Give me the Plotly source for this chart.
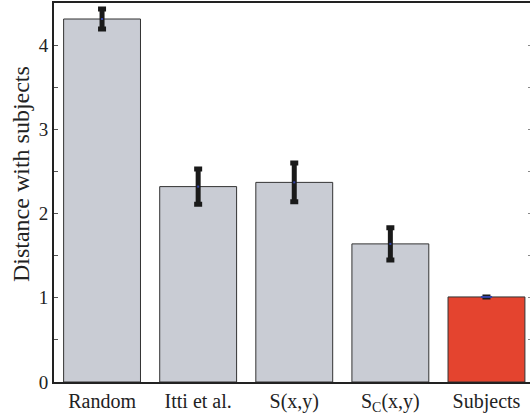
import plotly.graph_objects as go

categories = ["Random", "Itti et al.", "S(x,y)", "S<sub>C</sub>(x,y)", "Subjects"]
values = [4.31, 2.32, 2.37, 1.64, 1.01]
errors = [0.12, 0.21, 0.23, 0.19, 0.0]
bar_colors = ["#C9CCD4", "#C9CCD4", "#C9CCD4", "#C9CCD4", "#E4442F"]
y_ticks = [0, 1, 2, 3, 4]

x_idx = list(range(len(categories)))

fig = go.Figure()
fig.add_trace(go.Bar(
    x=x_idx, y=values,
    marker=dict(color=bar_colors, line=dict(color="#333333", width=1)),
    error_y=dict(type="data", array=errors, visible=True, color="#1a1a1a",
                 thickness=5, width=4),
    width=0.8, showlegend=False, hoverinfo="skip",
))
fig.add_trace(go.Scatter(
    x=x_idx[:4], y=values[:4], mode="markers",
    marker=dict(color="#3344aa", size=2, symbol="square"),
    showlegend=False, hoverinfo="skip",
))
fig.add_trace(go.Scatter(
    x=x_idx[4:], y=values[4:], mode="markers",
    marker=dict(color="#3344aa", size=8, symbol="line-ew", line=dict(color="#3344aa", width=2)),
    showlegend=False, hoverinfo="skip",
))
# invisible trace for right-side ticks
fig.add_trace(go.Scatter(x=[0], y=[0], yaxis="y2", mode="markers",
                         marker=dict(opacity=0), showlegend=False, hoverinfo="skip"))

font_family = "Liberation Serif"

fig.update_layout(
    width=530, height=414,
    margin=dict(l=54, r=0, t=3, b=32),
    paper_bgcolor="white", plot_bgcolor="white",
    font=dict(family=font_family, color="#222222"),
    bargap=0.2,
    xaxis=dict(
        range=[-0.5, 4.453], tickmode="array", tickvals=x_idx, ticktext=categories,
        showline=True, linecolor="#222222", linewidth=2, mirror=True,
        ticks="", showgrid=False, zeroline=False,
        tickfont=dict(size=20, family=font_family, color="#222222"),
    ),
    yaxis=dict(
        range=[0, 4.5], tickmode="array", tickvals=y_ticks,
        showline=True, linecolor="#222222", linewidth=2,
        ticks="inside", ticklen=4, tickwidth=1, tickcolor="#555555",
        minor=dict(dtick=0.5, ticks="inside", ticklen=4, tickwidth=1, tickcolor="#555555"),
        showgrid=False, zeroline=False,
        tickfont=dict(size=19, family=font_family, color="#222222"),
    ),
    yaxis2=dict(
        range=[0, 4.5], overlaying="y", side="right", showline=False,
        tickmode="array", tickvals=y_ticks, showticklabels=False,
        ticks="inside", ticklen=2, tickwidth=1, tickcolor="#888888",
        minor=dict(dtick=0.5, ticks="inside", ticklen=2, tickwidth=1, tickcolor="#888888"),
        showgrid=False, zeroline=False,
    ),
    annotations=[dict(
        text="Distance with subjects", textangle=-90,
        xref="paper", yref="paper", x=-0.069, y=0.549,
        xanchor="center", yanchor="middle", showarrow=False,
        font=dict(size=24, family=font_family, color="#222222"),
    )],
)

fig.write_html("out.html", config={"displayModeBar": False},
               post_script="document.body.style.margin='0';document.body.style.overflow='hidden';")
